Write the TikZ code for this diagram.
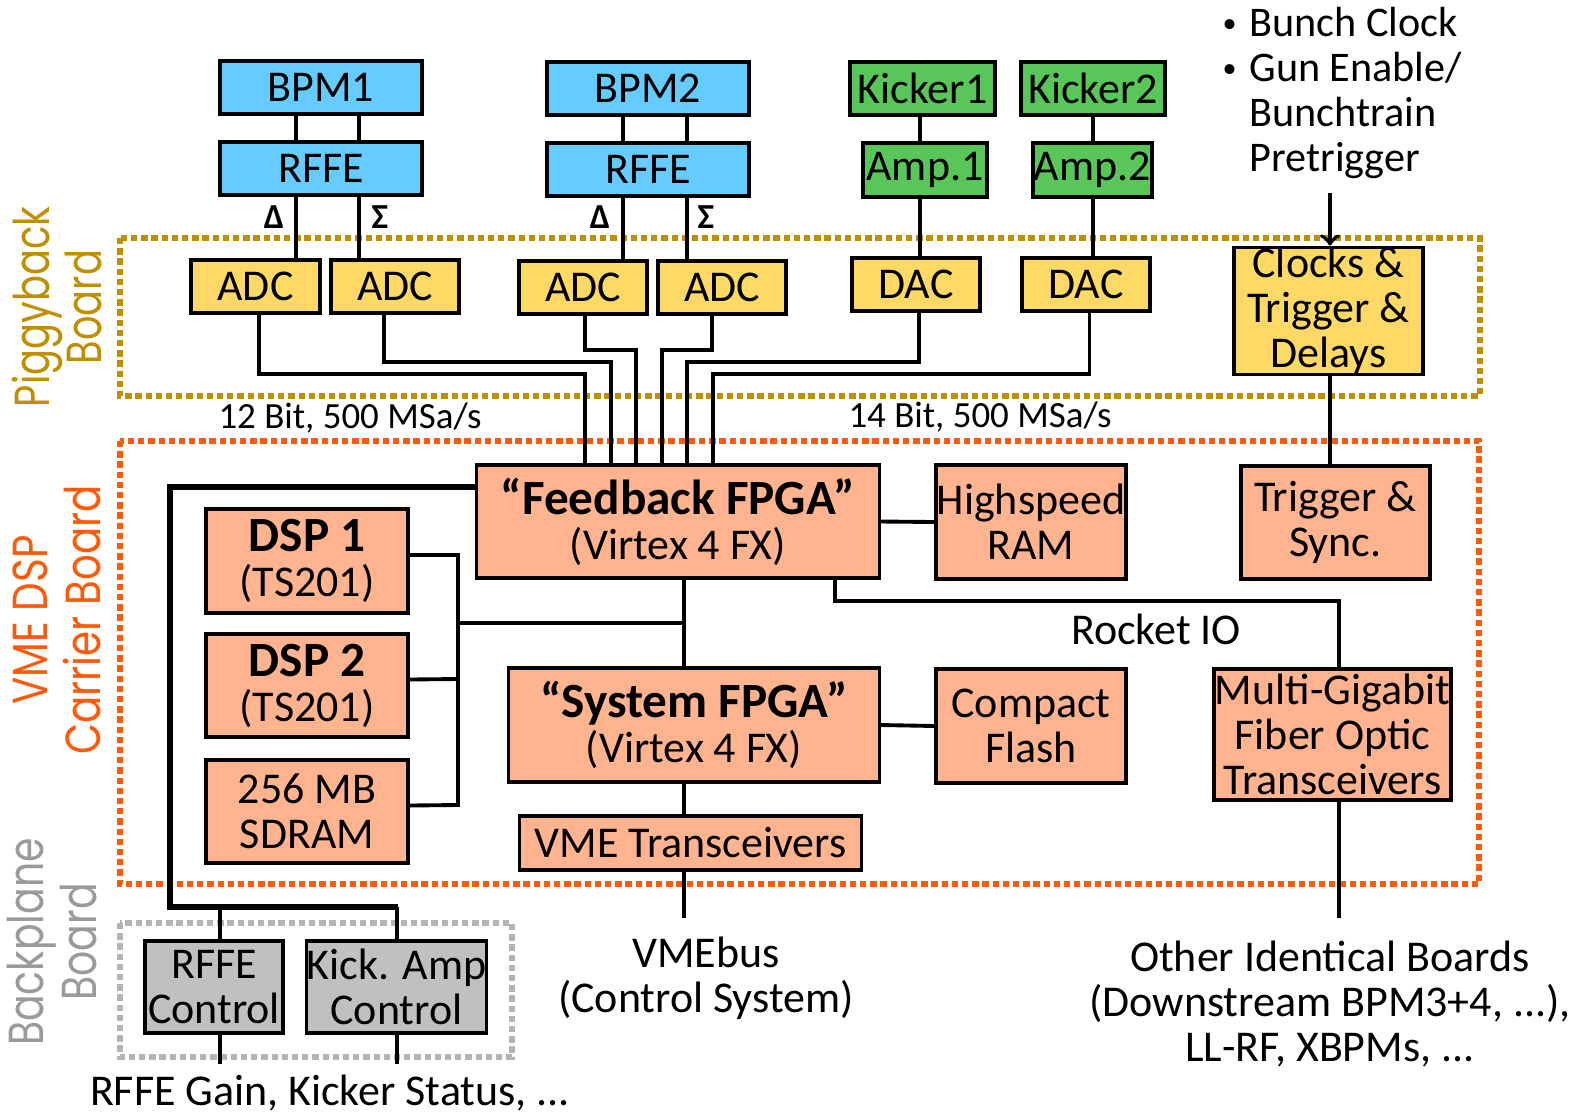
\documentclass[tikz,border=0pt]{standalone}
\usepackage{fontspec}
\setmainfont{Carlito}
\newfontfamily\sidefont{Poppins}
\usepackage{graphicx}

\definecolor{bpmblue}{HTML}{66CCFF}
\definecolor{kickgreen}{HTML}{59C659}
\definecolor{adcyellow}{HTML}{FFD966}
\definecolor{fpgasalmon}{HTML}{FFB38F}
\definecolor{ctlgrey}{HTML}{C0C0C0}
\definecolor{piggold}{HTML}{BF8F00}
\definecolor{vmeorange}{HTML}{FF5A0A}
\definecolor{bpgrey}{HTML}{B4B4B4}
\definecolor{sidegrey}{HTML}{9A9A9A}

\tikzset{
  blk/.style={draw, line width=0.9pt, inner sep=0pt, align=center,
    font=\fontsize{12.5}{12.8}\selectfont},
  wh/.style 2 args={minimum width=#1, minimum height=#2},
  bpmbox/.style={blk, fill=bpmblue},
  kickbox/.style={blk, fill=kickgreen},
  adcbox/.style={blk, fill=adcyellow},
  fpgabox/.style={blk, fill=fpgasalmon},
  ctlbox/.style={blk, fill=ctlgrey},
  wire/.style={line width=1.1pt},
  bus/.style={line width=1.9pt},
  board/.style={line width=1.6pt, dash pattern=on 1.8pt off 1.1pt},
  sidelabel/.style={rotate=90, align=center, inner sep=0pt,
    font=\sidefont\fontsize{14}{15}\selectfont},
  note/.style={align=center, inner sep=0pt, font=\fontsize{12.5}{12.8}\selectfont},
  rate/.style={inner sep=0pt, font=\fontsize{10.5}{12}\selectfont},
  sig/.style={inner sep=0pt, font=\bfseries\fontsize{10}{12}\selectfont},
}
\newcommand{\smallbul}{{\fontsize{8}{8}\selectfont\raisebox{.25ex}{•}}\hspace{.3em}}

\begin{document}
\begin{tikzpicture}[x=0.01cm, y=-0.01cm]
\useasboundingbox (0,0) rectangle (1569,1114);

% boards
\draw[board, piggold] (120,238) rectangle (1480,396);
\draw[board, vmeorange] (120,441) rectangle (1479,884);
\draw[board, bpgrey] (120,923) rectangle (512,1057);

\node[sidelabel, text=piggold] (lpig) at (57,307)
  {\scalebox{.78}[1]{Piggyback}\\\scalebox{.78}[1]{Board}};
\node[sidelabel, text=vmeorange] (lvme) at (57,620)
  {\scalebox{.82}[1]{VME DSP}\\\scalebox{.82}[1]{Carrier Board}};
\node[sidelabel, text=sidegrey] (lbp) at (52,942)
  {\scalebox{.8}[1]{Backplane}\\\scalebox{.8}[1]{Board}};

% pickups and kickers
\node[bpmbox, wh={2.02cm}{0.53cm}] (bpma) at (321,87.5) {BPM1};
\node[bpmbox, wh={2.02cm}{0.53cm}] (rffea) at (321,168.5) {RFFE};
\node[bpmbox, wh={2.02cm}{0.53cm}] (bpmb) at (648,88.5) {BPM2};
\node[bpmbox, wh={2.02cm}{0.53cm}] (rffeb) at (648,169.5) {RFFE};
\node[kickbox, wh={1.45cm}{0.53cm}] (kicka) at (922.5,88.5) {Kicker1};
\node[kickbox, wh={1.44cm}{0.53cm}] (kickb) at (1093,88.5) {Kicker2};
\node[kickbox, wh={1.24cm}{0.54cm}] (ampa) at (925,170) {Amp.1};
\node[kickbox, wh={1.19cm}{0.54cm}] (ampb) at (1092.5,170) {Amp.2};

% piggyback board
\node[adcbox, wh={1.29cm}{0.53cm}] (adca) at (255.5,286.5) {ADC};
\node[adcbox, wh={1.28cm}{0.53cm}] (adcb) at (395,286.5) {ADC};
\node[adcbox, wh={1.28cm}{0.53cm}] (adcc) at (583,287.5) {ADC};
\node[adcbox, wh={1.28cm}{0.53cm}] (adcd) at (722,287.5) {ADC};
\node[adcbox, wh={1.28cm}{0.53cm}] (daca) at (916,284.5) {DAC};
\node[adcbox, wh={1.28cm}{0.53cm}] (dacb) at (1086,284.5) {DAC};
\node[adcbox, wh={1.89cm}{1.26cm}] (clk) at (1328.5,311) {Clocks \&\\Trigger \&\\Delays};

% carrier board
\node[fpgabox, wh={4.02cm}{1.13cm}] (fb) at (678,521.5)
  {{\bfseries\fontsize{14}{16}\selectfont “Feedback FPGA”}\\(Virtex 4 FX)};
\node[fpgabox, wh={1.9cm}{1.14cm}] (hram) at (1031,522) {Highspeed\\RAM};
\node[fpgabox, wh={1.89cm}{1.13cm}] (ts) at (1335.5,522.5) {Trigger \&\\Sync.};
\node[fpgabox, wh={2.02cm}{1.04cm}] (dspa) at (307,561)
  {{\bfseries\fontsize{14}{16}\selectfont DSP 1}\\(TS201)};
\node[fpgabox, wh={2.02cm}{1.03cm}] (dspb) at (307,685.5)
  {{\bfseries\fontsize{14}{16}\selectfont DSP 2}\\(TS201)};
\node[fpgabox, wh={2.02cm}{1.03cm}] (sdram) at (307,811.5) {256 MB\\SDRAM};
\node[fpgabox, wh={3.7cm}{1.14cm}] (sys) at (694,725)
  {{\bfseries\fontsize{14}{16}\selectfont “System FPGA”}\\(Virtex 4 FX)};
\node[fpgabox, wh={1.9cm}{1.14cm}] (cf) at (1031,726) {Compact\\Flash};
\node[fpgabox, wh={2.37cm}{1.31cm}] (mgt) at (1332.5,734.5)
  {Multi-Gigabit\\Fiber Optic\\Transceivers};
\node[fpgabox, wh={3.41cm}{0.54cm}] (vmet) at (690.5,843) {VME Transceivers};

% backplane board
\node[ctlbox, wh={1.38cm}{0.92cm}] (rfc) at (214,987) {RFFE\\Control};
\node[ctlbox, wh={1.77cm}{0.92cm}] (kac) at (396.5,987) {Kick. Amp\\Control};

% free ends
\coordinate (trigin) at (1330,193);
\coordinate (vmebus) at (684,918);
\coordinate (others) at (1339,918);
\coordinate (ctlouta) at (220,1064);
\coordinate (ctloutb) at (397,1064);

% texts
\node[note, anchor=north west, align=left, font=\fontsize{12}{12.8}\selectfont] (pretrig) at (1222,6)
  {\smallbul Bunch Clock\\\smallbul Gun Enable/\\\phantom{\smallbul}Bunchtrain\\\phantom{\smallbul}Pretrigger};
\node[rate] (ratea) at (350,418) {12 Bit, 500 MSa/s};
\node[rate] (rateb) at (980,417) {14 Bit, 500 MSa/s};
\node[note] (rio) at (1156,629) {Rocket IO};
\node[note] (vmetxt) at (706,978) {VMEbus\\(Control System)};
\node[note] (othtxt) at (1330,1004) {Other Identical Boards\\(Downstream BPM3+4, ...),\\LL-RF, XBPMs, ...};
\node[note] (gaintxt) at (330,1093) {RFFE Gain, Kicker Status, ...};
\node[sig] (dela) at (274,217) {Δ};
\node[sig] (suma) at (380,217) {Σ};
\node[sig] (delb) at (600,217) {Δ};
\node[sig] (sumb) at (706,217) {Σ};

% wiring
\draw[wire] ([xshift=-.25cm]bpma.south) -- ([xshift=-.25cm]rffea.north);
\draw[wire] ([xshift=.38cm]bpma.south) -- ([xshift=.38cm]rffea.north);
\draw[wire] ([xshift=-.25cm]bpmb.south) -- ([xshift=-.25cm]rffeb.north);
\draw[wire] ([xshift=.39cm]bpmb.south) -- ([xshift=.39cm]rffeb.north);
\draw[wire] ([xshift=-.25cm]rffea.south) -- ([xshift=-.25cm]rffea.south |- adca.north);
\draw[wire] ([xshift=.38cm]rffea.south) -- ([xshift=.38cm]rffea.south |- adcb.north);
\draw[wire] ([xshift=-.25cm]rffeb.south) -- ([xshift=-.25cm]rffeb.south |- adcc.north);
\draw[wire] ([xshift=.39cm]rffeb.south) -- ([xshift=.39cm]rffeb.south |- adcd.north);
\draw[wire] ([xshift=-.025cm]kicka.south) -- ([xshift=-.025cm]kicka.south |- ampa.north);
\draw[wire] ([xshift=-.025cm]kicka.south |- ampa.south) -- ([xshift=-.025cm]kicka.south |- daca.north);
\draw[wire] (kickb.south) -- (kickb.south |- ampb.north);
\draw[wire] (kickb.south |- ampb.south) -- (kickb.south |- dacb.north);

\draw[wire] ([xshift=.035cm]adca.south) |- (585,374) -- (585,0 |- fb.north);
\draw[wire] ([xshift=-.11cm]adcb.south) |- (611,362) -- (611,0 |- fb.north);
\draw[wire] ([xshift=.02cm]adcc.south) |- (636,350) -- (636,0 |- fb.north);
\draw[wire] ([xshift=-.1cm]adcd.south) |- (662,350) -- (662,0 |- fb.north);
\draw[wire] ([xshift=.03cm]daca.south) |- (687,362) -- (687,0 |- fb.north);
\draw[wire] ([xshift=.035cm]dacb.south) |- (713,374) -- (713,0 |- fb.north);

\draw[wire, ->] (trigin) -- (trigin |- clk.north);
\draw[wire] (trigin |- clk.south) -- (trigin |- ts.north);

\draw[wire] (fb.east) -- (hram.west);
\draw[wire] (sys.east) -- (cf.west);
\draw[wire] (835,0 |- fb.south) |- (1339,601) -- (1339,0 |- mgt.north);
\draw[wire] (others |- mgt.south) -- (others);

\draw[wire] (684,0 |- fb.south) -- (684,0 |- sys.north);
\draw[wire] (684,0 |- sys.south) -- (684,0 |- vmet.north);
\draw[wire] (vmebus |- vmet.south) -- (vmebus);

\draw[wire] ([yshift=.06cm]dspa.east) -| (458,805) -- ([yshift=.06cm]sdram.east);
\draw[wire] ([yshift=.06cm]dspb.east) -- (458,679);
\draw[wire] (458,623) -- (684,623);

\draw[bus] (fb.west |- 0,487) -| (170,907) -- (398,907);
\draw[wire] (220,907) -- (220,0 |- rfc.north);
\draw[wire] (397,907) -- (397,0 |- kac.north);
\draw[wire] (ctlouta |- rfc.south) -- (ctlouta);
\draw[wire] (ctloutb |- kac.south) -- (ctloutb);
\end{tikzpicture}
\end{document}
